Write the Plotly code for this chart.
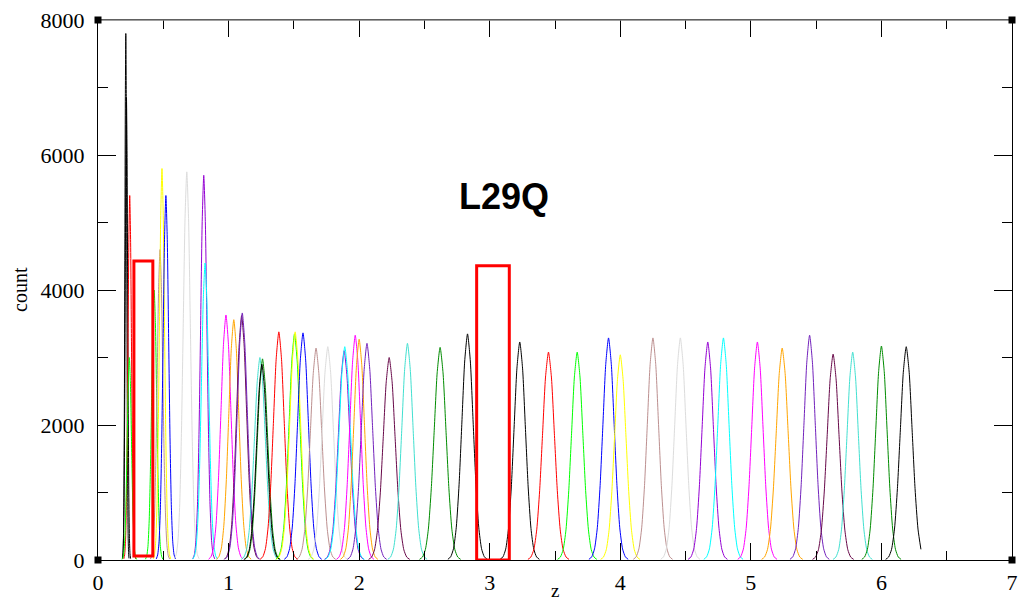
import numpy as np
import plotly.graph_objects as go

# ---- data ----
# peak centre (z), peak height (count), peak width (sigma in z), colour index
PEAK_Z = [0.213, 0.218, 0.243, 0.240, 0.430, 0.475, 0.490, 0.520, 0.680, 0.810, 0.820,
          0.980, 1.040, 1.100, 1.105, 1.240, 1.260, 1.255, 1.385, 1.505, 1.510, 1.570,
          1.670, 1.760, 1.885, 1.890, 1.970, 2.000, 2.060, 2.230, 2.370, 2.620, 2.830,
          3.230, 3.450, 3.670, 3.910, 4.000, 4.250, 4.460, 4.670, 4.790, 5.050, 5.240,
          5.450, 5.630, 5.780, 6.000, 6.190]
PEAK_H = [7800, 6850, 5400, 3000, 4000, 4600, 5800, 5400, 5750, 5700, 4400,
          3630, 3560, 3620, 3660, 3000, 2980, 2900, 3380, 3350, 3380, 3365,
          3140, 3160, 3100, 3160, 3330, 3270, 3210, 3000, 3210, 3150, 3350,
          3230, 3080, 3080, 3290, 3040, 3290, 3290, 3230, 3290, 3230, 3140,
          3330, 3050, 3080, 3170, 3160]
PEAK_W = [0.007, 0.009, 0.013, 0.016, 0.019, 0.021, 0.019, 0.021, 0.027, 0.024, 0.027,
          0.038, 0.038, 0.038, 0.038, 0.041, 0.039, 0.039, 0.041, 0.041, 0.041, 0.041,
          0.043, 0.043, 0.043, 0.043, 0.041, 0.041, 0.043, 0.045, 0.043, 0.045, 0.043,
          0.043, 0.045, 0.043, 0.043, 0.043, 0.043, 0.043, 0.043, 0.043, 0.043, 0.045,
          0.043, 0.045, 0.043, 0.043, 0.045]
PEAK_C = [0, 0, 1, 2, 2, 5, 4, 3, 6, 7, 8,
          9, 10, 12, 11, 13, 14, 0, 1, 2, 4, 3,
          5, 6, 7, 8, 9, 10, 11, 12, 13, 14, 0,
          0, 1, 2, 3, 4, 5, 6, 7, 8, 9, 10,
          11, 12, 13, 14, 0]
# normalised histogram shape of one window (offset in widths -> relative count)
PROFILE_OFFSET = [-3.5, -3.0, -2.5, -2.0, -1.5, -1.0, -0.5, 0.0, 0.5, 1.0, 1.5, 2.0, 2.5, 3.0, 3.5]
PROFILE_VALUE = [0.003, 0.014, 0.05, 0.145, 0.335, 0.61, 0.88, 1.0, 0.88, 0.61, 0.335, 0.145, 0.05, 0.014, 0.003]
Z_MAX = 6.31  # last histogram is cut here

X_TICKS = [0, 1, 2, 3, 4, 5, 6, 7]
Y_TICKS = [0, 2000, 4000, 6000, 8000]

# grace default palette
COLORS = ["#000000", "#FF0000", "#00FF00", "#0000FF", "#FFFF00", "#BC8F8F", "#DCDCDC",
          "#9400D3", "#00FFFF", "#FF00FF", "#FFA500", "#7221BC", "#670748", "#40E0D0", "#008B00"]

fig = go.Figure()
for z, h, w, c in zip(PEAK_Z, PEAK_H, PEAK_W, PEAK_C):
    off = np.array(PROFILE_OFFSET)
    val = np.array(PROFILE_VALUE)
    xs = z + off * w
    ys = h * val
    keep = xs <= Z_MAX
    fig.add_trace(go.Scatter(x=xs[keep], y=ys[keep], mode="lines",
                             line=dict(color=COLORS[c], width=1, shape="spline", smoothing=0.6),
                             hoverinfo="skip", showlegend=False))

serif = "Liberation Serif, Times New Roman, serif"
fig.update_layout(
    width=1024, height=605,
    margin=dict(l=98, r=6, t=20, b=45),
    paper_bgcolor="white", plot_bgcolor="white",
    showlegend=False,
    xaxis=dict(range=[0, 7], tickvals=X_TICKS, ticks="inside", ticklen=17, tickwidth=1,
               tickcolor="black", showline=True, linecolor="black", linewidth=1,
               mirror="ticks", showgrid=False, zeroline=False,
               tickfont=dict(family=serif, size=22, color="black"), ticklabelstandoff=3,
               minor=dict(dtick=0.5, ticks="inside", ticklen=9, tickcolor="black", showgrid=False)),
    yaxis=dict(range=[0, 8000], tickvals=Y_TICKS, ticks="inside", ticklen=18, tickwidth=1,
               tickcolor="black", showline=True, linecolor="black", linewidth=1,
               mirror="ticks", showgrid=False, zeroline=False,
               tickfont=dict(family=serif, size=22, color="black"), ticklabelstandoff=8,
               minor=dict(dtick=1000, ticks="inside", ticklen=10, tickcolor="black", showgrid=False)),
)

# red highlight boxes
fig.add_shape(type="rect", xref="x", yref="y", x0=0.275, x1=0.42, y0=60, y1=4430,
              line=dict(color="red", width=3), fillcolor="rgba(0,0,0,0)")
fig.add_shape(type="rect", xref="x", yref="y", x0=2.90, x1=3.15, y0=0, y1=4360,
              line=dict(color="red", width=3), fillcolor="rgba(0,0,0,0)")

# grey top frame line
fig.add_shape(type="line", xref="paper", yref="paper", x0=0, x1=1, y0=1, y1=1,
              line=dict(color="#808080", width=1.5))
# corner squares
for cx in (0, 1):
    for cy in (0, 1):
        fig.add_shape(type="rect", xref="paper", yref="paper", xsizemode="pixel", ysizemode="pixel",
                      xanchor=cx, yanchor=cy, x0=-3.5, x1=3.5, y0=-3.5, y1=3.5,
                      fillcolor="black", line=dict(width=0))

fig.add_annotation(x=3.11, y=5380, xref="x", yref="y", text="<b>L29Q</b>", showarrow=False,
                   font=dict(family="Liberation Sans, Arial, sans-serif", size=36, color="black"))
fig.add_annotation(x=0.5, y=0, xref="paper", yref="paper", yanchor="top", yshift=-18,
                   text="z", showarrow=False, font=dict(family=serif, size=19, color="black"))
fig.add_annotation(x=0, y=0.5, xref="paper", yref="paper", xanchor="center", xshift=-78,
                   text="count", textangle=-90, showarrow=False,
                   font=dict(family=serif, size=20, color="black"))

fig.write_html("out.html")
